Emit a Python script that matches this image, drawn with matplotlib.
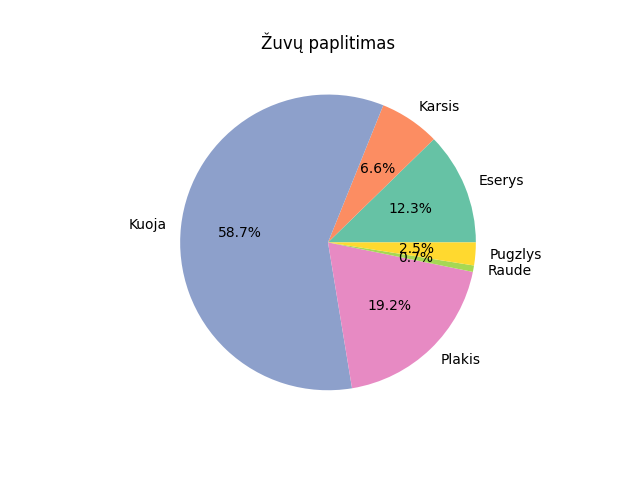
import matplotlib
matplotlib.use('Agg')
import matplotlib.pyplot as plt

labels = ['Eserys', 'Karsis', 'Kuoja', 'Plakis', 'Raude', 'Pugzlys']
sizes = [12.3, 6.6, 58.7, 19.2, 0.7, 2.5]
colors = plt.cm.Set2.colors[:6]

fig, ax = plt.subplots(figsize=(6.4, 4.8), dpi=100)
ax.pie(sizes, labels=labels, autopct='%1.1f%%', colors=colors)
ax.set_title('Žuvų paplitimas')
fig.savefig('out.png')
